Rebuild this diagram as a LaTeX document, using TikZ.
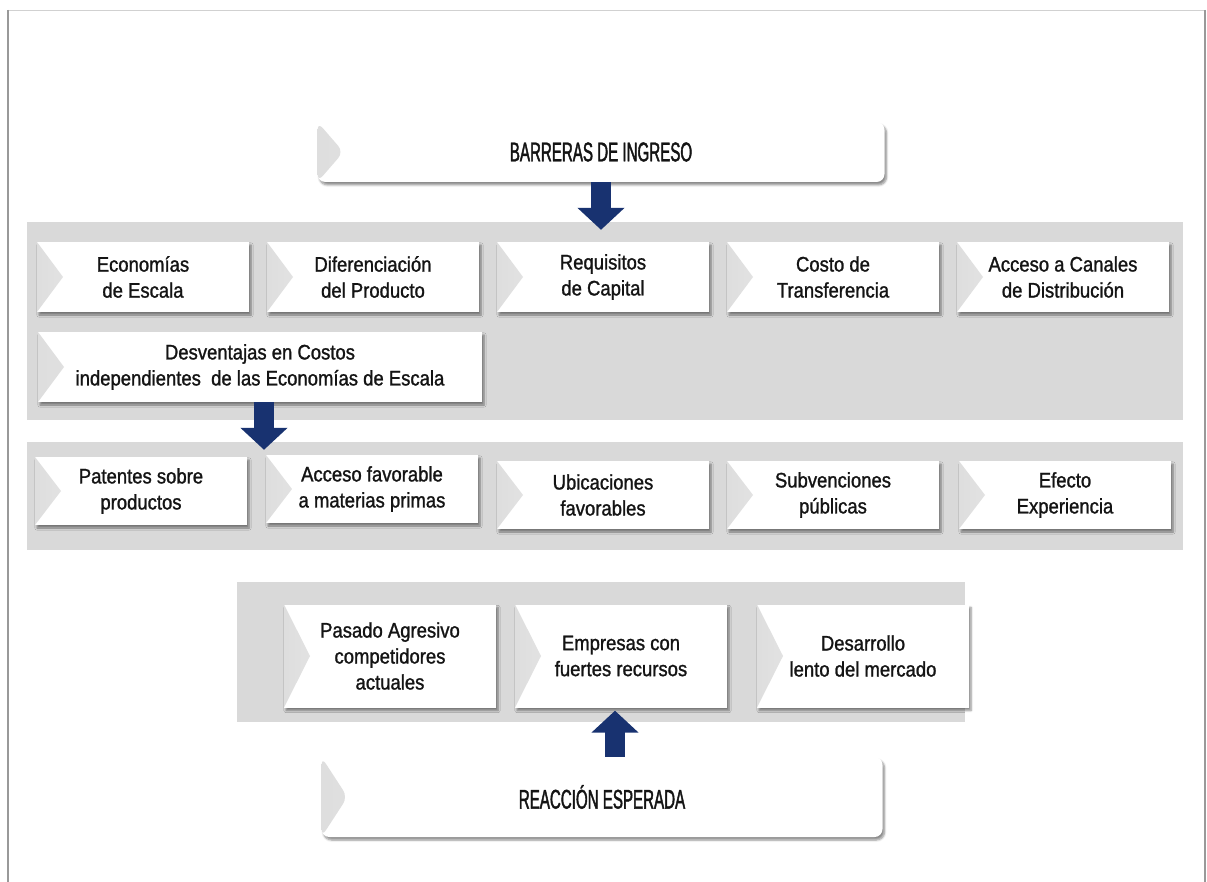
\documentclass[tikz,border=0pt]{standalone}
\usepackage{fontspec}
\setmainfont{Liberation Sans}[FakeStretch=0.88,FakeBold=1.2]
\newfontfamily\capsfont{Liberation Sans}[FakeStretch=0.56,FakeBold=1.5]
\usetikzlibrary{arrows.meta,shadows.blur}
\definecolor{bandgray}{RGB}{217,217,217}
\definecolor{arrowblue}{RGB}{24,50,112}
\definecolor{boxtext}{RGB}{20,20,20}
\begin{document}
\begin{tikzpicture}[x=1pt,y=-1pt,
  box/.style={fill=white,align=center,text=boxtext,inner sep=0pt,
    font=\fontsize{21}{26}\selectfont,minimum width=212pt,minimum height=70pt,
    blur shadow={shadow xshift=2pt,shadow yshift=-3pt,shadow blur steps=6,shadow opacity=45},
    path picture={\shade[left color=black!13,right color=white]
      (path picture bounding box.north west) -- ([xshift=26pt]path picture bounding box.west)
      -- (path picture bounding box.south west) -- cycle;}},
  titlebox/.style={box,rounded corners=8pt,font=\capsfont\fontsize{27}{30}\selectfont},
  band/.style={fill=bandgray},
  barrow/.style={arrowblue,line width=20pt,-{Triangle[width=46pt,length=22pt]}}]
\useasboundingbox (0,0) rectangle (1207,882);
\draw[black!18] (8,10) rectangle (1205,900);
\draw[black!40,line width=2pt] (8,10) -- (8,882) (1205,10) -- (1205,882);
\fill[band] (27,222) rectangle (1183,420);
\fill[band] (27,442) rectangle (1183,550);
\fill[band] (237,582) rectangle (965,722);
\node[titlebox,minimum width=567pt,minimum height=60pt] (bar) at (601,152) {BARRERAS DE INGRESO};
\foreach \n/\x/\lbl in {eco/143/{Economías\\de Escala},dif/373/{Diferenciación\\del Producto},
  req/603/{Requisitos\\de Capital},cos/833/{Costo de\\Transferencia},can/1063/{Acceso a Canales\\de Distribución}}
  {\node[box] (\n) at (\x,277) {\lbl};}
\node[box,minimum width=444pt] (dcos) at (260,367) {Desventajas en Costos\\independientes~ de las Economías de Escala};
\foreach \n/\x/\y/\lbl in {pat/141/491/{Patentes sobre\\productos},fav/372/489/{Acceso favorable\\a materias primas},
  ubi/603/495/{Ubicaciones\\favorables},sub/833/495/{Subvenciones\\públicas},efe/1065/495/{Efecto\\Experiencia}}
  {\node[box,minimum height=68pt] (\n) at (\x,\y) {\lbl};}
\foreach \n/\x/\lbl in {pas/390/{Pasado Agresivo\\competidores\\actuales},emp/621/{Empresas con\\fuertes recursos},
  len/863/{Desarrollo\\lento del mercado}}
  {\node[box,minimum height=103pt] (\n) at (\x,656) {\lbl};}
\node[titlebox,minimum width=561pt,minimum height=80pt] (rea) at (602,797) {REACCIÓN ESPERADA};
\draw[barrow,shorten >=12pt] (bar.south) -- (bar.south |- req.north);
\draw[barrow,shorten >=5pt] ([xshift=4pt]dcos.south) -- ([xshift=4pt]dcos.south |- fav.north);
\draw[barrow,shorten >=3pt] ([xshift=13pt]rea.north) -- ([xshift=13pt]rea.north |- emp.south);
\end{tikzpicture}
\end{document}
